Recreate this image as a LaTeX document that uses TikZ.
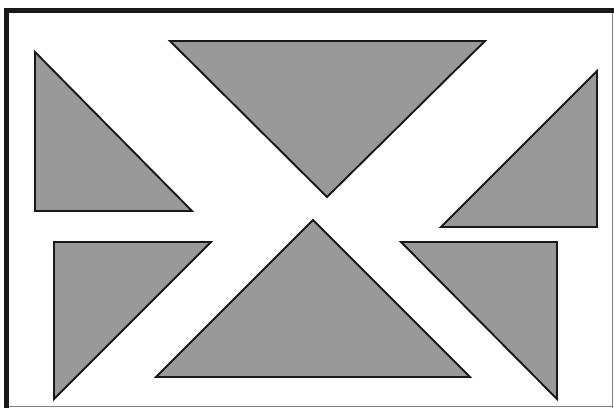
\documentclass[tikz,border=0pt]{standalone}
\begin{document}
\begin{tikzpicture}[x=1pt,y=-1pt,
  tri/.style={fill=black!40, draw=black!90, line width=1.9pt, line join=miter},
  thickframe/.style={draw=black!90, line width=5pt},
  thinframe/.style={draw=black!50, line width=1pt}]
\useasboundingbox (0,0) rectangle (614,408);
\fill[white] (0,0) rectangle (614,408);
% frame
\draw[thickframe] (6.5,408) -- (6.5,10.5) -- (614,10.5);
\draw[thinframe] (612.5,13) -- (612.5,408);
\draw[thinframe] (9,406.5) -- (612,406.5);
% triangles
\draw[tri] (35,52) -- (35,211) -- (192,211) -- cycle;
\draw[tri] (170,41) -- (485,41) -- (327,197) -- cycle;
\draw[tri] (597,71) -- (597,227) -- (441,227) -- cycle;
\draw[tri] (54,242) -- (211,242) -- (54,399) -- cycle;
\draw[tri] (313,220) -- (470,377) -- (156,377) -- cycle;
\draw[tri] (401,242) -- (557,242) -- (557,399) -- cycle;
\end{tikzpicture}
\end{document}
